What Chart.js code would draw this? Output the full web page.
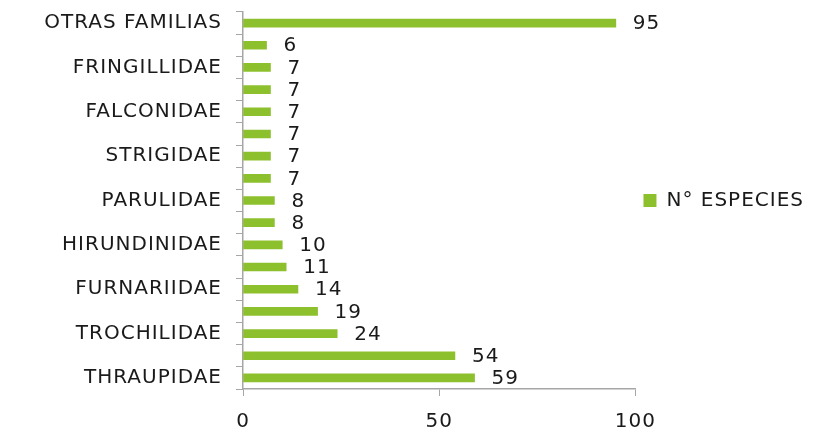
<!DOCTYPE html>
<html>
<head>
<meta charset="utf-8">
<script src="https://cdn.jsdelivr.net/npm/chart.js@4.4.1/dist/chart.umd.min.js"></script>
<style>
  html,body{margin:0;padding:0;background:#fff}
  #wrap{width:814px;height:430px}
</style>
</head>
<body>
<div id="wrap"><canvas id="c" width="814" height="430"></canvas></div>
<script>
// familias de aves, de arriba hacia abajo
const familias = ['OTRAS FAMILIAS','TURDIDAE','FRINGILLIDAE','PSITTACIDAE','FALCONIDAE','THAMNOPHILIDAE',
  'STRIGIDAE','PICIDAE','PARULIDAE','ICTERIDAE','HIRUNDINIDAE','COLUMBIDAE','FURNARIIDAE',
  'ACCIPITRIDAE','TROCHILIDAE','TYRANNIDAE','THRAUPIDAE'];
const especies = [95,6,7,7,7,7,7,7,8,8,10,11,14,19,24,54,59];
const ticksX = [0,50,100];

const FONT = "'DejaVu Sans', 'Noto Sans', sans-serif";
const VERDE = '#8dc02d';
const GRIS = '#a6a6a6';
const TEXTO = '#1a1a1a';
const ESPACIO = '1px';

// letra ancha: un poco de espaciado en todo el lienzo (el canvas lo pierde al redimensionar)
const espaciado = {
  id:'espaciado',
  beforeLayout(chart){ chart.ctx.letterSpacing = ESPACIO; },
  beforeDraw(chart){ chart.ctx.letterSpacing = ESPACIO; }
};

// la leyenda queda centrada respecto al área de barras, no a todo el lienzo
const subirLeyenda = {
  id:'subirLeyenda',
  afterLayout(chart){
    const lg = chart.legend;
    const d = (lg.top + lg.bottom) / 2 - (chart.chartArea.top + chart.chartArea.bottom) / 2;
    lg.top -= d; lg.bottom -= d;
  }
};

// etiqueta con el valor a la derecha de cada barra
const etiquetas = {
  id:'etiquetas',
  afterDatasetsDraw(chart){
    const ctx = chart.ctx;
    const meta = chart.getDatasetMeta(0);
    ctx.save();
    ctx.font = '20px ' + FONT;
    ctx.fillStyle = TEXTO;
    ctx.textBaseline = 'middle';
    ctx.textAlign = 'left';
    meta.data.forEach((bar,i)=>{
      ctx.fillText(String(especies[i]), bar.x + 17, bar.y + 1);
    });
    ctx.restore();
  }
};

new Chart(document.getElementById('c'), {
  type:'bar',
  data:{
    labels:familias,
    datasets:[{
      label:'N° ESPECIES',
      data:especies,
      backgroundColor:VERDE,
      barThickness:8
    }]
  },
  plugins:[espaciado, subirLeyenda, etiquetas],
  options:{
    indexAxis:'y',
    responsive:false,
    animation:false,
    layout:{padding:{top:12,right:0,left:0,bottom:0}},
    scales:{
      x:{
        min:0,max:100,
        afterBuildTicks(axis){ axis.ticks = ticksX.map(v=>({value:v})); },
        afterFit(axis){ axis.height = 41; },
        grid:{display:true,drawOnChartArea:false,color:GRIS,tickLength:7},
        border:{color:GRIS,width:1.5},
        ticks:{font:{size:20,family:FONT},color:TEXTO,padding:14}
      },
      y:{
        afterFit(axis){ axis.width = 243; axis.paddingTop = 0; axis.paddingBottom = 0; },
        grid:{display:true,drawOnChartArea:false,offset:true,color:GRIS,tickLength:7},
        border:{color:GRIS,width:1.5},
        ticks:{
          autoSkip:false,
          font:{size:20,family:FONT},color:TEXTO,padding:14,
          callback(v,i){ return i % 2 === 0 ? familias[i] : ''; }
        }
      }
    },
    plugins:{
      legend:{
        position:'right',
        labels:{boxWidth:13,boxHeight:13,font:{size:20,family:FONT},color:TEXTO,padding:8}
      },
      tooltip:{enabled:false}
    }
  }
});
</script>
</body>
</html>
